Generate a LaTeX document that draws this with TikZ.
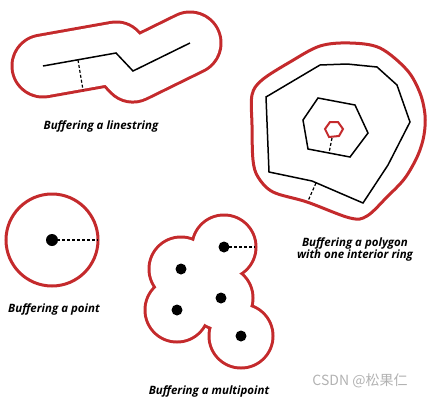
\documentclass[tikz,border=0pt]{standalone}
\usepackage{fontspec}
\setmainfont{Open Sans}
\newfontfamily\cjkfont{Noto Sans CJK SC}
\usepackage{xcolor}
\definecolor{bufred}{RGB}{196,42,44}

\begin{document}
\begin{tikzpicture}[
    x=1pt,
    y=-1pt,
    every node/.style={font=\fontsize{11.5}{12}\selectfont\bfseries\itshape},
    geom/.style={draw=black, line width=1.5pt, line join=miter},
    radius/.style={draw=black, line width=1.2pt, dash pattern=on 3pt off 2pt},
    buffer/.style={draw=bufred, line width=3pt},
    dot/.style={circle, fill=black, inner sep=0pt, minimum size=12pt},
    caption/.style={align=center, inner sep=0pt},
    watermark/.style={font=\cjkfont\fontsize{14}{16}\selectfont, text=gray!60, inner sep=0pt}
]
    \useasboundingbox (0,0) rectangle (432,402);

    % linestring
    \coordinate (l1) at (43,66);
    \coordinate (l2) at (116,53);
    \coordinate (l3) at (133,71);
    \coordinate (l4) at (190,43);
    \coordinate (lr1) at (78,60);
    \coordinate (lr2) at (83,90);
    \draw[bufred, line width=65pt, line cap=round, line join=round] (l1) -- (l2) -- (l3) -- (l4);
    \draw[white, line width=59pt, line cap=round, line join=round] (l1) -- (l2) -- (l3) -- (l4);
    \draw[geom] (l1) -- (l2) -- (l3) -- (l4);
    \draw[radius] (lr1) -- (lr2);
    \node[caption] (cl) at (101,126) {Buffering a linestring};

    % point
    \coordinate (p) at (52,240);
    \coordinate (pe) at (98,240);
    \draw[buffer] (p) circle (46);
    \draw[radius] (p) -- (pe);
    \node[dot] (dp) at (p) {};
    \node[caption] (cp) at (54,309) {Buffering a point};

    % multipoint
    \coordinate (m1) at (224,247);
    \coordinate (m2) at (181,269);
    \coordinate (m3) at (221,298);
    \coordinate (m4) at (177,310);
    \coordinate (m5) at (241,336);
    \coordinate (me) at (255,247);
    \foreach \m in {m1,m2,m3,m4,m5}
        \fill[bufred] (\m) circle (33.5);
    \foreach \m in {m1,m2,m3,m4,m5}
        \fill[white] (\m) circle (30.5);
    \draw[radius] (m1) -- (me);
    \foreach \m in {m1,m2,m3,m4,m5}
        \node[dot, minimum size=11pt] (d\m) at (\m) {};
    \node[caption] (cm) at (209,391) {Buffering a multipoint};

    % polygon with interior ring
    \draw[buffer] plot[smooth cycle, tension=0.55] coordinates {
        (252,95) (262,80) (290,62) (320,46) (350,43) (380,48) (407,70)
        (420,93) (425,115) (424,135) (418,155) (405,178) (387,197)
        (367,216) (350,218) (307,202) (273,192) (258,177) (253,160) (252,125)};
    \draw[geom] (266,97) -- (320,65) -- (347,64) -- (377,67) -- (397,85)
        -- (410,122) -- (388,165) -- (363,203) -- (312,181) -- (269,172) -- cycle;
    \draw[geom] (303,120) -- (318,98) -- (355,105) -- (368,133)
        -- (350,157) -- (308,149) -- cycle;
    \draw[bufred, line width=2pt] (325,129) -- (330,122) -- (338,122)
        -- (343,129) -- (339,136) -- (329,137) -- cycle;
    \coordinate (or1) at (316,183);
    \coordinate (or2) at (308,201);
    \coordinate (ir1) at (332,138);
    \coordinate (ir2) at (329,153);
    \draw[radius] (or1) -- (or2);
    \draw[radius] (ir1) -- (ir2);
    \node[caption] (cg) at (355,249) {Buffering a polygon\\with one interior ring};

    \node[watermark] (wm) at (360,381) {CSDN @松果仁};
\end{tikzpicture}
\end{document}
